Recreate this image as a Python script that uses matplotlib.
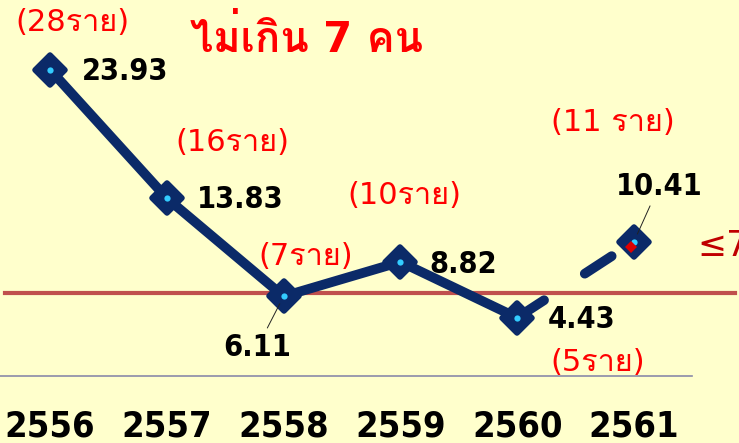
import matplotlib
matplotlib.use("Agg")
import matplotlib.pyplot as plt
import matplotlib.transforms as mtransforms
from matplotlib.markers import MarkerStyle

years = ['2556', '2557', '2558', '2559', '2560', '2561']
rate = [23.93, 13.83, 6.11, 8.82, 4.43, 10.41]
cases = ['(28ราย)', '(16ราย)', '(7ราย)', '(10ราย)', '(5ราย)', '(11 ราย)']
target_line = 6.4   # drawn a bit below 7 in the original slide

navy = '#0B2A68'
bg = '#FFFFCC'
thai = ['DejaVu Sans', 'Loma']

fig = plt.figure(figsize=(7.39, 4.43), dpi=100, facecolor=bg)
ax = fig.add_axes([0, 67 / 443, 692 / 739, 376 / 443])
ax.set_facecolor(bg)
ax.set_xlim(-0.428, 5.497)
ax.set_ylim(-0.15, 29.4)

x = list(range(len(years)))

# main line: solid up to 2560, dashed to 2561
ax.plot(x[:5], rate[:5], color=navy, lw=7, solid_capstyle='round', zorder=3)
ax.plot(x[4:], rate[4:], color=navy, lw=7, ls=(0, (3.3, 5.0)),
        dash_capstyle='round', zorder=3)
mk = MarkerStyle('D', joinstyle='round')
ax.plot(x, rate, ls='none', marker=mk, ms=15, mew=4, color=navy, zorder=4)
ax.plot(x, rate, ls='none', marker='o', ms=4.5, mew=0, color='#33CCFF', zorder=5)
off = mtransforms.offset_copy(ax.transData, fig, x=-2, y=-4, units='points')
ax.plot(x[5], rate[5], ls='none', marker='D', ms=6, mew=0, color='#DD0000',
        transform=off, zorder=6)

# target line
ax.axhline(target_line, xmin=5 / 692, xmax=735 / 692, color='#C0504D', lw=3,
           clip_on=False, zorder=2)

# value labels
num_font = dict(family='DejaVu Sans', stretch='condensed', weight='bold',
                fontsize=22, color='black')
val_off = [(23, -1.5), (22, -1), (-19, -37), (21, -2), (22, -1.5), (18, 40)]
for i, v in enumerate(rate):
    dx, dy = val_off[i]
    if i in (2, 5):
        ax.annotate(f'{v:.2f}', (i, v), xytext=(dx, dy), textcoords='offset points',
                    ha='center', va='center', zorder=7,
                    arrowprops=dict(arrowstyle='-', lw=0.7, color='#222222',
                                    shrinkA=2, shrinkB=6), **num_font)
    else:
        ax.annotate(f'{v:.2f}', (i, v), xytext=(dx, dy), textcoords='offset points',
                    ha='left', va='center', zorder=7, **num_font)

# number of cases
case_off = [(16, 34), (47, 40), (16, 29), (3, 48), (58, -32), (-15, 86)]
for i, c in enumerate(cases):
    dx, dy = case_off[i]
    ax.annotate(c, (i, rate[i]), xytext=(dx, dy), textcoords='offset points',
                ha='center', va='center', fontsize=22, color='#FF0000',
                family=thai, zorder=7)

# slide texts
px = mtransforms.Affine2D().scale(1 / 739, -1 / 443).translate(0, 1) + fig.transFigure
fig.text(190, 52, 'ไม่เกิน 7 คน', transform=px, ha='left', va='baseline',
         fontsize=30, weight='bold', color='#FF0000', family=thai)
fig.text(697, 246, '≤7', transform=px, ha='left', va='center',
         fontsize=25, color='#C00000', family='DejaVu Sans')

# axis
for s in ('top', 'left', 'right'):
    ax.spines[s].set_visible(False)
ax.spines['bottom'].set_color('#8A8AA8')
ax.spines['bottom'].set_linewidth(1.2)
ax.set_yticks([])
ax.set_xticks(x, years)
ax.tick_params(axis='x', length=0, pad=24)
for t in ax.get_xticklabels():
    t.set_fontfamily('DejaVu Sans')
    t.set_fontstretch('condensed')
    t.set_fontweight('bold')
    t.set_fontsize(26)

fig.savefig('out.png', dpi=100, facecolor=bg)
